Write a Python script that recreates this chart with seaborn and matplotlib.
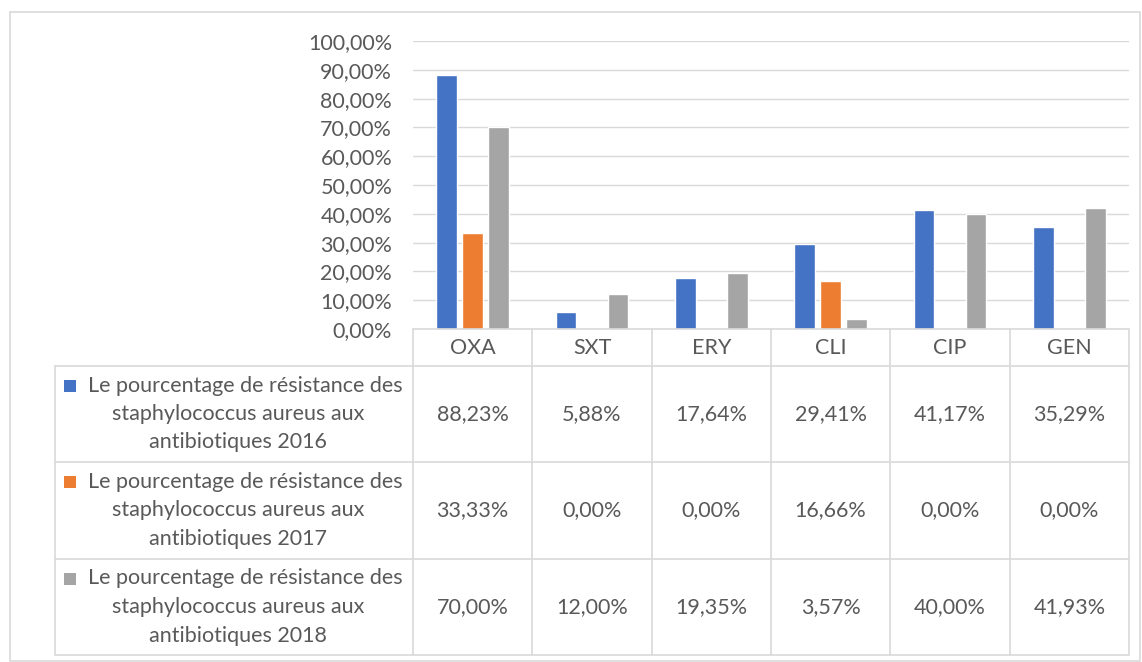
import matplotlib
matplotlib.use("Agg")
import matplotlib.pyplot as plt
import seaborn as sns
import pandas as pd
from matplotlib.lines import Line2D
from matplotlib.patches import Rectangle
from matplotlib.ticker import FuncFormatter

# --- data -----------------------------------------------------------
antibiotics = ["OXA", "SXT", "ERY", "CLI", "CIP", "GEN"]
res_2016 = [88.23, 5.88, 17.64, 29.41, 41.17, 35.29]
res_2017 = [33.33, 0.00, 0.00, 16.66, 0.00, 0.00]
res_2018 = [70.00, 12.00, 19.35, 3.57, 40.00, 41.93]
series_names = [
    "Le pourcentage de résistance des staphylococcus aureus aux antibiotiques 2016",
    "Le pourcentage de résistance des staphylococcus aureus aux antibiotiques 2017",
    "Le pourcentage de résistance des staphylococcus aureus aux antibiotiques 2018",
]
colors = ["#4472C4", "#ED7D31", "#A5A5A5"]

rows = []
for name, vals in zip(series_names, [res_2016, res_2017, res_2018]):
    for ab, v in zip(antibiotics, vals):
        rows.append({"antibiotic": ab, "series": name, "value": v / 100})
df = pd.DataFrame(rows)

# --- figure ---------------------------------------------------------
W, H = 1142, 662
sns.set_style("white")
plt.rcParams["font.family"] = ["Lato", "DejaVu Sans"]
txt = "#595959"
grid = "#D9D9D9"
fs = 15.5

fig = plt.figure(figsize=(W / 100, H / 100), dpi=100)


def fx(x):
    return x / W


def fy(y):
    return 1 - y / H


ax_l, ax_r, ax_t, ax_b = 413, 1129, 41, 329
ax = fig.add_axes([fx(ax_l), fy(ax_b), fx(ax_r - ax_l), (ax_b - ax_t) / H])

sns.barplot(data=df, x="antibiotic", y="value", hue="series", palette=colors,
            width=0.65, gap=0.2, saturation=1, ax=ax, legend=False, errorbar=None)
ax.set_ylim(0, 1)
ax.set_xlim(-0.5, len(antibiotics) - 0.5)
ax.set_yticks([i / 10 for i in range(11)])
ax.yaxis.set_major_formatter(FuncFormatter(lambda v, p: f"{v * 100:.2f}%".replace(".", ",")))
ax.tick_params(axis="y", length=0, labelsize=fs, labelcolor=txt, pad=15)
ax.set_xticks([])
ax.set_xlabel("")
ax.set_ylabel("")
ax.grid(axis="y", color=grid, linewidth=1)
ax.set_axisbelow(True)
for s in ax.spines.values():
    s.set_visible(False)

# --- data table -----------------------------------------------------
col_x = [413 + i * (1129 - 413) / 6 for i in range(7)]
row_y = [329, 366, 462, 559, 655]
left_x = 55

def hline(x0, x1, y):
    fig.add_artist(Line2D([fx(x0), fx(x1)], [fy(y), fy(y)], color=grid, lw=1.2))


def vline(x, y0, y1):
    fig.add_artist(Line2D([fx(x), fx(x)], [fy(y0), fy(y1)], color=grid, lw=1.2))


hline(413, 1129, 329)
for y in row_y[1:]:
    hline(left_x, 1129, y)
for x in col_x:
    vline(x, 329, 655)
vline(left_x, 366, 655)

for i, ab in enumerate(antibiotics):
    cx = (col_x[i] + col_x[i + 1]) / 2
    fig.text(fx(cx), fy(348), ab, ha="center", va="center", fontsize=fs, color=txt)

for r, (name, vals, c) in enumerate(zip(series_names, [res_2016, res_2017, res_2018], colors)):
    y0, y1 = row_y[r + 1], row_y[r + 2]
    yc = (y0 + y1) / 2
    words = name.split(" ")
    lines = [" ".join(words[:5]), " ".join(words[5:8]), " ".join(words[8:])]
    for k, ln in enumerate(lines):
        ly = yc + (k - 1) * 28.5
        cx = 245 if k == 0 else 238
        fig.text(fx(cx), fy(ly), ln, ha="center", va="center", fontsize=fs, color=txt)
    fig.add_artist(Rectangle((fx(64), fy(yc - 28.5 + 6)), fx(12), 12 / H,
                             color=c, lw=0))
    for i, v in enumerate(vals):
        cx = (col_x[i] + col_x[i + 1]) / 2
        fig.text(fx(cx), fy(yc), f"{v:.2f}%".replace(".", ","), ha="center",
                 va="center", fontsize=fs, color=txt)

# outer chart border
fig.add_artist(Rectangle((fx(10), fy(661)), fx(1140 - 10), (661 - 12) / H,
                         fill=False, edgecolor=grid, lw=1.2))

fig.savefig("out.png", dpi=100)
